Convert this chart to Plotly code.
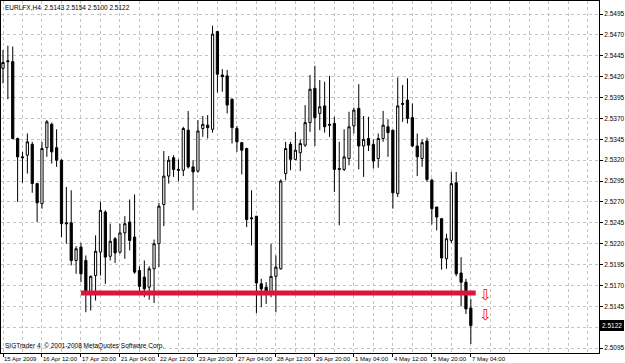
import plotly.graph_objects as go

# ---- data (bar index, OHLC) ----
bars = list(range(97))
opens = [2.5430, 2.5439, 2.5438, 2.5346, 2.5324, 2.5326, 2.5339, 2.5292, 2.5268, 2.5335,
         2.5363, 2.5335, 2.5320, 2.5245, 2.5245, 2.5200, 2.5216, 2.5200, 2.5161, 2.5182,
         2.5210, 2.5258, 2.5205, 2.5226, 2.5210, 2.5233, 2.5246, 2.5228, 2.5188, 2.5180,
         2.5168, 2.5190, 2.5220, 2.5267, 2.5301, 2.5323, 2.5309, 2.5308, 2.5356, 2.5312,
         2.5307, 2.5358, 2.5362, 2.5357, 2.5474, 2.5422, 2.5421, 2.5393, 2.5358, 2.5341,
         2.5334, 2.5251, 2.5253, 2.5172, 2.5168, 2.5161, 2.5181, 2.5190, 2.5304, 2.5339,
         2.5321, 2.5329, 2.5338, 2.5365, 2.5406, 2.5376, 2.5385, 2.5363, 2.5364, 2.5310,
         2.5309, 2.5322, 2.5361, 2.5382, 2.5337, 2.5346, 2.5339, 2.5322, 2.5346, 2.5360,
         2.5356, 2.5280, 2.5388, 2.5392, 2.5371, 2.5337, 2.5322, 2.5343, 2.5296, 2.5264,
         2.5250, 2.5202, 2.5224, 2.5293, 2.5185, 2.5174, 2.5143]
highs = [2.5452, 2.5457, 2.5456, 2.5347, 2.5330, 2.5352, 2.5342, 2.5293, 2.5342, 2.5368,
         2.5365, 2.5357, 2.5321, 2.5288, 2.5284, 2.5217, 2.5221, 2.5206, 2.5182, 2.5230,
         2.5270, 2.5260, 2.5244, 2.5228, 2.5244, 2.5253, 2.5273, 2.5279, 2.5193, 2.5200,
         2.5193, 2.5225, 2.5269, 2.5331, 2.5325, 2.5326, 2.5321, 2.5360, 2.5379, 2.5320,
         2.5368, 2.5373, 2.5374, 2.5481, 2.5475, 2.5429, 2.5428, 2.5394, 2.5361, 2.5342,
         2.5335, 2.5284, 2.5253, 2.5178, 2.5174, 2.5220, 2.5206, 2.5297, 2.5342, 2.5342,
         2.5354, 2.5345, 2.5386, 2.5422, 2.5433, 2.5416, 2.5414, 2.5421, 2.5372, 2.5342,
         2.5357, 2.5378, 2.5383, 2.5411, 2.5373, 2.5372, 2.5345, 2.5352, 2.5379, 2.5369,
         2.5356, 2.5419, 2.5410, 2.5418, 2.5388, 2.5352, 2.5345, 2.5347, 2.5298, 2.5264,
         2.5251, 2.5232, 2.5306, 2.5306, 2.5204, 2.5178, 2.5154]
lows = [2.5412, 2.5393, 2.5345, 2.5270, 2.5293, 2.5304, 2.5281, 2.5246, 2.5262, 2.5324,
        2.5316, 2.5312, 2.5228, 2.5220, 2.5194, 2.5184, 2.5174, 2.5138, 2.5140, 2.5152,
        2.5182, 2.5172, 2.5200, 2.5197, 2.5208, 2.5202, 2.5212, 2.5184, 2.5159, 2.5156,
        2.5153, 2.5149, 2.5192, 2.5241, 2.5292, 2.5300, 2.5295, 2.5301, 2.5310, 2.5260,
        2.5305, 2.5348, 2.5346, 2.5353, 2.5401, 2.5402, 2.5376, 2.5340, 2.5330, 2.5303,
        2.5240, 2.5218, 2.5137, 2.5144, 2.5148, 2.5156, 2.5138, 2.5189, 2.5296, 2.5308,
        2.5320, 2.5307, 2.5336, 2.5354, 2.5337, 2.5356, 2.5353, 2.5348, 2.5282, 2.5242,
        2.5307, 2.5314, 2.5352, 2.5309, 2.5300, 2.5331, 2.5310, 2.5311, 2.5342, 2.5324,
        2.5262, 2.5276, 2.5366, 2.5364, 2.5336, 2.5301, 2.5312, 2.5294, 2.5243, 2.5236,
        2.5189, 2.5190, 2.5221, 2.5181, 2.5145, 2.5136, 2.5100]
closes = [2.5437, 2.5438, 2.5346, 2.5324, 2.5323, 2.5342, 2.5292, 2.5269, 2.5334, 2.5366,
          2.5330, 2.5320, 2.5244, 2.5244, 2.5200, 2.5214, 2.5184, 2.5162, 2.5181, 2.5211,
          2.5260, 2.5204, 2.5223, 2.5209, 2.5233, 2.5244, 2.5224, 2.5186, 2.5169, 2.5166,
          2.5190, 2.5220, 2.5265, 2.5301, 2.5320, 2.5309, 2.5308, 2.5358, 2.5312, 2.5306,
          2.5355, 2.5363, 2.5359, 2.5471, 2.5423, 2.5420, 2.5386, 2.5359, 2.5342, 2.5332,
          2.5249, 2.5250, 2.5173, 2.5166, 2.5160, 2.5181, 2.5192, 2.5295, 2.5334, 2.5321,
          2.5332, 2.5340, 2.5365, 2.5405, 2.5371, 2.5384, 2.5360, 2.5362, 2.5309, 2.5309,
          2.5324, 2.5360, 2.5380, 2.5337, 2.5345, 2.5338, 2.5319, 2.5346, 2.5362, 2.5353,
          2.5281, 2.5385, 2.5387, 2.5370, 2.5337, 2.5324, 2.5341, 2.5297, 2.5262, 2.5252,
          2.5203, 2.5226, 2.5292, 2.5184, 2.5174, 2.5142, 2.5122]

# support line (horizontal object) and signal arrows
support_bars = [16, 97]
support_level = [2.5161, 2.5161]
arrow_bars = [99, 99]
arrow_prices = [2.5157, 2.5133]

# axis labels
date_bars = [0, 8, 16, 24, 32, 40, 48, 56, 64, 72, 80, 88, 96]
date_labels = ["15 Apr 2009", "16 Apr 12:00", "17 Apr 20:00", "21 Apr 04:00", "22 Apr 12:00",
               "23 Apr 20:00", "27 Apr 04:00", "28 Apr 12:00", "29 Apr 20:00", "1 May 04:00",
               "4 May 12:00", "5 May 20:00", "7 May 04:00"]
grid_bars = list(range(0, 124, 4))
price_ticks = [2.5495, 2.5470, 2.5445, 2.5420, 2.5395, 2.5370, 2.5345, 2.5320, 2.5295,
               2.5270, 2.5245, 2.5220, 2.5195, 2.5170, 2.5145, 2.5120, 2.5095]
price_tick_text = ["2.5495", "2.5470", "2.5445", "2.5420", "2.5395", "2.5370", "2.5345",
                   "2.5320", "2.5295", "2.5270", "2.5245", "2.5220", "2.5195", "2.5170",
                   "2.5145", "", "2.5095"]
current_price = 2.5122
header = "EURLFX,H4  2.5143 2.5154 2.5100 2.5122"
footer = "SIGTrader 4, \u00a9 2001-2008 MetaQuotes Software Corp."

FONT = "Liberation Sans"
GRID = "#c4c4c4"

fig = go.Figure()
fig.add_trace(go.Scatter(x=support_bars, y=support_level, mode="lines",
                         line=dict(color="#dc143c", width=5), hoverinfo="skip"))
fig.add_trace(go.Candlestick(
    x=bars, open=opens, high=highs, low=lows, close=closes,
    increasing=dict(line=dict(color="black", width=1), fillcolor="white"),
    decreasing=dict(line=dict(color="black", width=1), fillcolor="black"),
    whiskerwidth=0))
fig.add_trace(go.Scatter(x=arrow_bars, y=arrow_prices, mode="text", text=["\u21e9", "\u21e9"],
                         textfont=dict(color="#ff0000", size=15, family="DejaVu Sans"),
                         hoverinfo="skip"))

annotations = []
for b, lab in zip(date_bars, date_labels):
    annotations.append(dict(x=b, y=0, xref="x", yref="paper", text=lab, showarrow=False,
                            xanchor="left", yanchor="top", xshift=-1, yshift=-1,
                            font=dict(family=FONT, size=6, color="black")))
annotations.append(dict(x=0, y=1, xref="paper", yref="paper", text=header, showarrow=False,
                        xanchor="left", yanchor="top", xshift=2, yshift=-1,
                        font=dict(family=FONT, size=6.5, color="black")))
annotations.append(dict(x=0, y=0, xref="paper", yref="paper", text=footer, showarrow=False,
                        xanchor="left", yanchor="bottom", xshift=2, yshift=1,
                        font=dict(family=FONT, size=6.5, color="black")))
annotations.append(dict(x=1, y=current_price, xref="paper", yref="y",
                        text=f"{current_price:.4f}", showarrow=False,
                        xanchor="left", yanchor="middle", xshift=1,
                        bgcolor="black", bordercolor="black", borderpad=1,
                        font=dict(family=FONT, size=6.5, color="white")))

fig.update_layout(
    width=625, height=363,
    margin=dict(l=0, r=23, t=1, b=10),
    paper_bgcolor="white", plot_bgcolor="white",
    showlegend=False, boxgap=0.35,
    annotations=annotations,
    xaxis=dict(range=[-0.41, 122.3], rangeslider=dict(visible=False),
               tickmode="array", tickvals=date_bars, showticklabels=False,
               ticks="outside", ticklen=3, tickcolor="black",
               showgrid=True, gridcolor=GRID, griddash="dot", gridwidth=1,
               minor=dict(tickvals=grid_bars, showgrid=True, gridcolor=GRID,
                          griddash="dot", gridwidth=1, ticks=""),
               showline=True, linecolor="black", linewidth=1, mirror=True,
               zeroline=False),
    yaxis=dict(range=[2.50892, 2.55106], side="right",
               tickmode="array", tickvals=price_ticks, ticktext=price_tick_text,
               ticks="outside", ticklen=3, tickcolor="black",
               tickfont=dict(family=FONT, size=6.5, color="black"),
               showgrid=True, gridcolor=GRID, griddash="dot", gridwidth=1,
               showline=True, linecolor="black", linewidth=1, mirror=True,
               zeroline=False),
)

fig.write_html("out.html")
